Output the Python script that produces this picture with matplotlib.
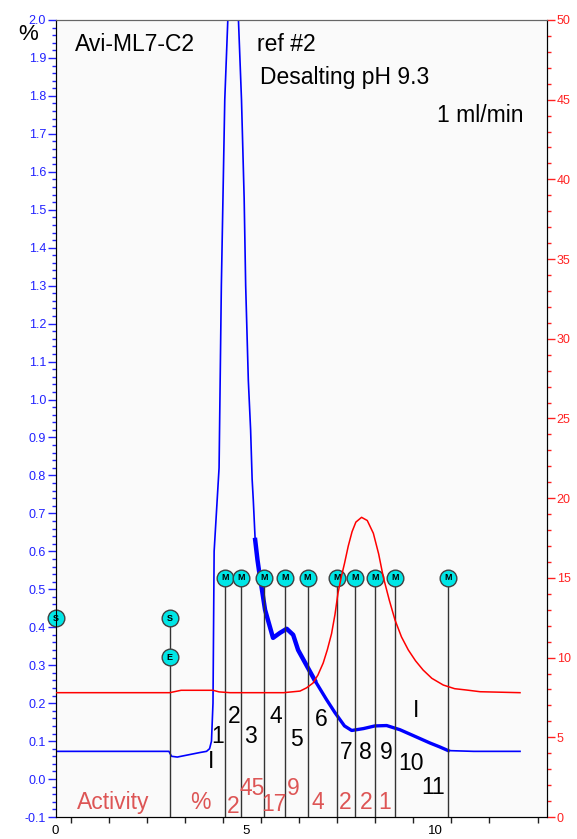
import numpy as np
import matplotlib.pyplot as plt

plt.rcParams['font.family'] = ['Liberation Sans', 'DejaVu Sans']

# blue trace, left axis (%)
uv_x = [0, 2.98, 3.05, 3.2, 3.5, 3.8, 3.97, 4.05, 4.10, 4.14, 4.17, 4.30, 4.36, 4.45, 4.53,
        4.60, 4.67, 4.75, 4.81, 4.89, 4.96, 5.00, 5.07, 5.13, 5.17, 5.20, 5.25, 5.31, 5.35,
        5.51, 5.72, 5.90, 6.08, 6.25, 6.38, 6.60, 6.82, 7.13, 7.35, 7.60, 7.79, 8.10, 8.40,
        8.71, 9.06, 9.40, 9.85, 10.10, 10.33, 11.0, 12.22]
uv_y = [0.073, 0.073, 0.060, 0.058, 0.064, 0.070, 0.073, 0.080, 0.100, 0.20, 0.60, 0.82, 1.30, 1.79, 2.00,
        2.10, 2.12, 2.10, 2.00, 1.79, 1.53, 1.30, 1.05, 0.92, 0.79, 0.736, 0.63, 0.578, 0.55,
        0.446, 0.372, 0.385, 0.396, 0.380, 0.340, 0.300, 0.260, 0.209, 0.175, 0.140, 0.128, 0.133, 0.140,
        0.141, 0.130, 0.115, 0.095, 0.085, 0.075, 0.073, 0.073]

# red trace, right axis
red_x = [0, 3.0, 3.1, 3.3, 4.14, 4.3, 4.59, 6.0, 6.43, 6.6, 6.77, 6.9, 7.04, 7.15, 7.26,
         7.35, 7.43, 7.52, 7.60, 7.70, 7.80, 7.90, 8.05, 8.20, 8.36, 8.50, 8.62, 8.78,
         8.93, 9.10, 9.28, 9.47, 9.67, 9.90, 10.2, 10.5, 10.8, 11.17, 12.22]
red_y = [7.8, 7.8, 7.85, 7.95, 7.95, 7.85, 7.8, 7.8, 7.9, 8.1, 8.4, 8.9, 9.66, 10.5, 11.5,
         12.7, 14.05, 15.1, 15.9, 17.0, 17.9, 18.5, 18.8, 18.6, 17.8, 16.5, 15.07, 13.6,
         12.36, 11.3, 10.48, 9.8, 9.22, 8.7, 8.28, 8.05, 7.97, 7.86, 7.8]

# fraction marks
mark_x = [4.46, 4.89, 5.49, 6.04, 6.63, 7.40, 7.88, 8.40, 8.93, 10.32]
mark_level = 0.53
event_x = [0, 3.0, 3.0]
event_y = [0.424, 0.424, 0.321]
event_txt = ['S', 'S', 'E']

frac_txt = ['I', '1', '2', '3', '4', '5', '6', '7', '8', '9', '10', '11', 'I']
frac_pos = [(4.09, 0.046), (4.27, 0.111), (4.69, 0.165), (5.13, 0.112), (5.80, 0.165),
            (6.35, 0.104), (7.00, 0.158), (7.64, 0.070), (8.14, 0.070), (8.69, 0.070),
            (9.34, 0.040), (9.94, -0.021), (9.48, 0.181)]

act_txt = ['Activity', '%', '2', '45', '17', '9', '4', '2', '2', '1']
act_pos = [(1.52, -0.062), (3.80, -0.062), (4.66, -0.072), (5.16, -0.024), (5.74, -0.068),
           (6.24, -0.024), (6.91, -0.063), (7.61, -0.063), (8.17, -0.063), (8.67, -0.063)]

fig = plt.figure(figsize=(5.77, 8.39), dpi=100)
ax = fig.add_axes([0.0965, 0.0262, 0.8515, 0.9500])
ax.set_facecolor('#fafafa')
ax2 = ax.twinx()

ax.set_xlim(0, 12.93)
ax.set_ylim(-0.1, 2.0)
ax2.set_ylim(0, 50)

ux = np.array(uv_x)
uy = np.array(uv_y)
ax.plot(ux, uy, color='#0000ff', lw=1.2, zorder=3)
noisy = (ux >= 5.25) & (ux <= 6.9)
ax.plot(ux[noisy], uy[noisy], color='#0000ff', lw=3.2, zorder=3)
noisy2 = (ux >= 6.82) & (ux <= 10.35)
ax.plot(ux[noisy2], uy[noisy2], color='#0000ff', lw=2.4, zorder=3)
ax2.plot(red_x, red_y, color='#ff0000', lw=1.1, zorder=3)

# fraction lines and markers
cyan = '#00e6e6'
for x in mark_x:
    ax.plot([x, x], [-0.1, mark_level], color='#333333', lw=1, zorder=4)
    ax.plot(x, mark_level, 'o', ms=12, mfc=cyan, mec='#404040', mew=1, zorder=5)
    ax.text(x, mark_level, 'M', ha='center', va='center', fontsize=6.5,
            fontweight='bold', zorder=6)
ax.plot([event_x[1], event_x[1]], [-0.1, event_y[1]], color='#333333', lw=1, zorder=4)
for x, y, t in zip(event_x, event_y, event_txt):
    ax.plot(x, y, 'o', ms=12, mfc=cyan, mec='#404040', mew=1, zorder=5, clip_on=False)
    ax.text(x, y, t, ha='center', va='center', fontsize=6.5, fontweight='bold', zorder=6)

for t, (x, y) in zip(frac_txt, frac_pos):
    ax.text(x, y, t, ha='center', va='center', fontsize=16.5, color='black', zorder=6)
for t, (x, y) in zip(act_txt, act_pos):
    ax.text(x, y, t, ha='center', va='center', fontsize=16.5, color='#dd5555', zorder=6)

ax.text(0.51, 1.935, 'Avi-ML7-C2', ha='left', va='center', fontsize=16.5)
ax.text(5.30, 1.935, 'ref #2', ha='left', va='center', fontsize=16.5)
ax.text(5.37, 1.848, 'Desalting pH 9.3', ha='left', va='center', fontsize=16.5)
ax.text(12.30, 1.749, '1 ml/min', ha='right', va='center', fontsize=16.5)
fig.text(28 / 577, 1 - 34 / 839, '%', ha='center', va='center', fontsize=16)

# left axis
ax.set_yticks(np.round(np.arange(-0.1, 2.01, 0.1), 1))
ax.set_yticks(np.arange(-0.1, 2.001, 0.02), minor=True)
ax.yaxis.set_major_formatter(plt.FormatStrFormatter('%.1f'))
ax.tick_params(axis='y', which='major', colors='#2222ff', length=6, width=1, labelsize=9, pad=1)
ax.tick_params(axis='y', which='minor', colors='#2222ff', length=3, width=1)

# x axis
ax.set_xticks([0, 5, 10])
ax.set_xticklabels(['0', '5', '10'])
ax.set_xticks([0.4, 1.4, 2.4, 3.4, 4.4, 5.4, 6.4, 7.4, 8.4, 9.4, 10.4, 11.4, 12.7], minor=True)
ax.tick_params(axis='x', which='major', length=0, labelsize=9.5, pad=6)
ax.tick_params(axis='x', which='minor', length=4, width=1, color='#222222')

# right axis
ax2.set_yticks(np.arange(0, 51, 5))
ax2.set_yticks(np.arange(0, 51, 1), minor=True)
ax2.tick_params(axis='y', which='major', colors='#ff2222', length=6, width=1, labelsize=9, pad=1)
ax2.tick_params(axis='y', which='minor', colors='#ff2222', length=3, width=1)

for a in (ax, ax2):
    a.spines['left'].set_color('black')
    a.spines['bottom'].set_color('black')
    a.spines['right'].set_color('black')
    a.spines['top'].set_color('#666666')

fig.savefig('out.png', dpi=100)
